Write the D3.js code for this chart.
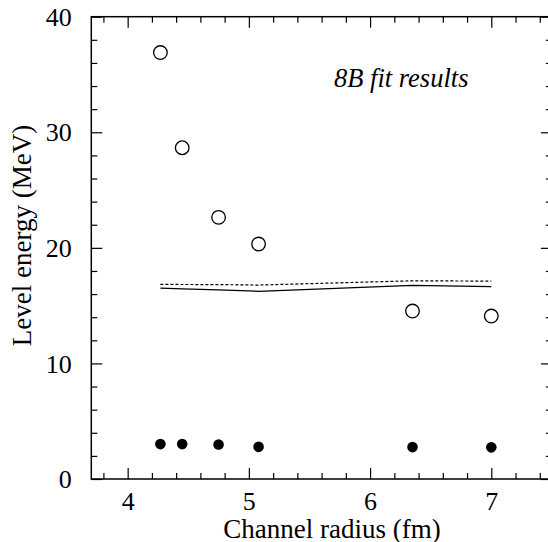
<!DOCTYPE html>
<html>
<head>
<meta charset="utf-8">
<script src="https://cdn.jsdelivr.net/npm/d3@7"></script>
<style>
html,body{margin:0;padding:0;background:#fff;}
svg{display:block;}
</style>
</head>
<body>
<svg id="chart" width="548" height="542"></svg>
<script>
// Data
const radius = [4.27, 4.45, 4.75, 5.08, 6.35, 7.0];
const openLevels = [36.9, 28.66, 22.64, 20.33, 14.53, 14.1];
const filledLevels = [3.02, 3.02, 2.98, 2.78, 2.76, 2.74];
const solidLine = [16.52, 16.45, 16.36, 16.24, 16.76, 16.64];
const dashedLine = [16.84, 16.83, 16.82, 16.78, 17.15, 17.12];
const xTicks = [4, 5, 6, 7];
const yTicks = [0, 10, 20, 30, 40];
const xDomain = [3.7, 7.5];
const yDomain = [0, 40];

(function () {
const FONT = "Liberation Serif";
const svg = d3.select("#chart");
const x = d3.scaleLinear().domain(xDomain).range([91.3, 551.9]);
const y = d3.scaleLinear().domain(yDomain).range([479, 16.7]);

const axisW = 1.5;
const xMinor = d3.range(3.8, 7.5, 0.2).filter(v => Math.abs(v - Math.round(v)) > 1e-6);
const yMinor = d3.range(2, 40, 2).filter(v => v % 10 !== 0);

function styleAxis(g) {
  g.attr("font-family", FONT);
  g.select(".domain").remove();
  g.selectAll("line").attr("stroke", "#000").attr("stroke-width", 1.2);
  g.selectAll("text").attr("fill", "#000").attr("font-family", FONT);
}

// bottom axis
const gBottom = svg.append("g").attr("transform", `translate(0,${y(0)})`)
  .call(d3.axisBottom(x).tickValues(xTicks).tickSizeInner(-11).tickSizeOuter(0).tickPadding(13).tickFormat(d3.format("d")));
styleAxis(gBottom);
gBottom.selectAll("text").attr("font-size", 26).attr("dy", "0.68em");
svg.append("g").attr("transform", `translate(0,${y(0)})`)
  .call(d3.axisBottom(x).tickValues(xMinor).tickSizeInner(-6).tickSizeOuter(0).tickFormat(""))
  .call(styleAxis);

// top axis
svg.append("g").attr("transform", `translate(0,${y(40)})`)
  .call(d3.axisTop(x).tickValues(xTicks).tickSizeInner(-11).tickSizeOuter(0).tickFormat(""))
  .call(styleAxis);
svg.append("g").attr("transform", `translate(0,${y(40)})`)
  .call(d3.axisTop(x).tickValues(xMinor).tickSizeInner(-6).tickSizeOuter(0).tickFormat(""))
  .call(styleAxis);

// left axis
const gLeft = svg.append("g").attr("transform", `translate(${x(3.7)},0)`)
  .call(d3.axisLeft(y).tickValues(yTicks).tickSizeInner(-11).tickSizeOuter(0).tickPadding(19.5).tickFormat(d3.format("d")));
styleAxis(gLeft);
gLeft.selectAll("text").attr("font-size", 26).attr("dy", "0.33em");
svg.append("g").attr("transform", `translate(${x(3.7)},0)`)
  .call(d3.axisLeft(y).tickValues(yMinor).tickSizeInner(-6).tickSizeOuter(0).tickFormat(""))
  .call(styleAxis);

// right axis
svg.append("g").attr("transform", `translate(${x(7.5)},0)`)
  .call(d3.axisRight(y).tickValues(yTicks).tickSizeInner(-11).tickSizeOuter(0).tickFormat(""))
  .call(styleAxis);
svg.append("g").attr("transform", `translate(${x(7.5)},0)`)
  .call(d3.axisRight(y).tickValues(yMinor).tickSizeInner(-6).tickSizeOuter(0).tickFormat(""))
  .call(styleAxis);

// frame
svg.append("rect")
  .attr("x", x(3.7)).attr("y", y(40))
  .attr("width", x(7.5) - x(3.7)).attr("height", y(0) - y(40))
  .attr("fill", "none").attr("stroke", "#000").attr("stroke-width", axisW);

// lines
const line = vals => d3.line().x((d, i) => x(radius[i])).y(d => y(d))(vals);
svg.append("path").attr("d", line(dashedLine)).attr("fill", "none")
  .attr("stroke", "#000").attr("stroke-width", 1.2).attr("stroke-dasharray", "3,2");
svg.append("path").attr("d", line(solidLine)).attr("fill", "none")
  .attr("stroke", "#000").attr("stroke-width", 1.3);

// open circles
svg.append("g").selectAll("circle").data(openLevels).join("circle")
  .attr("cx", (d, i) => x(radius[i])).attr("cy", d => y(d)).attr("r", 6.8)
  .attr("fill", "#fff").attr("stroke", "#000").attr("stroke-width", 1.3);

// filled circles
svg.append("g").selectAll("circle").data(filledLevels).join("circle")
  .attr("cx", (d, i) => x(radius[i])).attr("cy", d => y(d)).attr("r", 5.3)
  .attr("fill", "#000");

// annotation
svg.append("text").attr("x", 334).attr("y", 87.3).attr("font-family", FONT)
  .attr("font-size", 26.5).attr("font-style", "italic").text("8B fit results");

// axis titles
svg.append("text").attr("x", 332).attr("y", 537.5).attr("font-family", FONT)
  .attr("text-anchor", "middle").attr("font-size", 27).text("Channel radius (fm)");
svg.append("text").attr("transform", "translate(31,235.5) rotate(-90)").attr("font-family", FONT)
  .attr("text-anchor", "middle").attr("font-size", 27).text("Level energy (MeV)");
})();
</script>
</body>
</html>
